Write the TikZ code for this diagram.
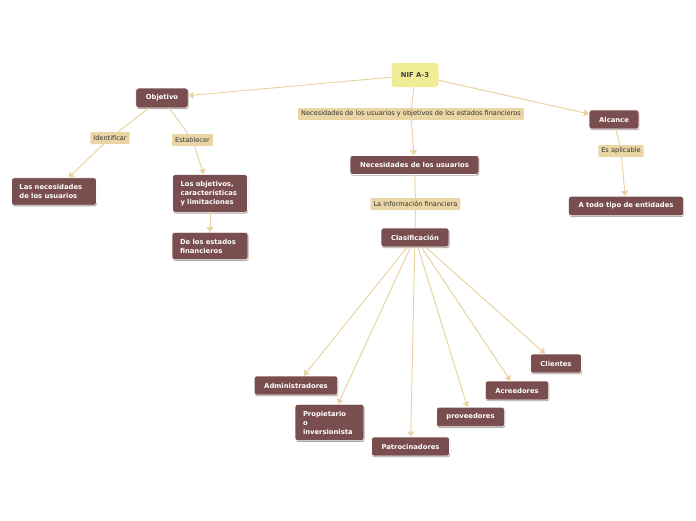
\documentclass[tikz,border=0pt]{standalone}
\usepackage{fontspec}
\setmainfont{DejaVu Sans}
\usepackage{xcolor}
\usepackage{tikz}
\usetikzlibrary{arrows.meta, shadows}

\definecolor{boxfill}{RGB}{122,78,78}
\definecolor{tagfill}{RGB}{234,214,164}
\definecolor{linecol}{RGB}{233,212,164}
\definecolor{rootfill}{RGB}{241,237,150}

\begin{document}
\begin{tikzpicture}[x=1pt, y=1pt,
  topic/.style={draw=white, line width=0.6pt, fill=boxfill, rounded corners=2.5pt, text=white,
    font=\fontsize{6.8}{9}\selectfont\bfseries, inner xsep=10pt, inner ysep=6.5pt, minimum height=19pt,
    align=left, drop shadow={shadow xshift=0.6pt, shadow yshift=-1.2pt, opacity=0.35, fill=black}},
  root/.style={fill=rootfill, rounded corners=3pt, text=black!75,
    font=\fontsize{6.8}{8.6}\selectfont\bfseries, minimum width=47pt, minimum height=24pt},
  tag/.style={fill=tagfill, rounded corners=1pt, text=black!80,
    font=\fontsize{6.6}{7.5}\selectfont, inner xsep=3pt, inner ysep=0pt, minimum height=12pt},
  conn/.style={draw=linecol, line width=1pt},
  arr/.style={conn, -{Triangle[width=7pt, length=5pt]}}]

  \useasboundingbox (0,0) rectangle (696,-520);

  % main nodes
  \node[root] (nif) at (415,-75) {NIF A-3};
  \node[topic] (objetivo) at (162,-98) {Objetivo};
  \node[topic] (alcance) at (614,-119.5) {Alcance};
  \node[topic] (necesidades) at (414.5,-165) {Necesidades de los usuarios};
  \node[topic] (clasificacion) at (415,-237.5) {Clasificación};
  \node[topic, inner xsep=8pt, text width=69pt] (lasnec) at (54,-191.5) {Las necesidades\\de los usuarios};
  \node[topic, inner xsep=8pt, text width=59pt] (losobj) at (210,-193.5) {Los objetivos,\\características\\y limitaciones};
  \node[topic, inner xsep=8pt, text width=60pt] (deest) at (210,-246) {De los estados\\financieros};
  \node[topic] (todo) at (626,-206) {A todo tipo de entidades};

  % clasificacion
  \node[topic] (admin) at (296,-385.5) {Administradores};
  \node[topic, inner xsep=8pt, text width=53pt] (prop) at (329.5,-422.5) {Propietario\\o\\inversionista};
  \node[topic] (patro) at (410.5,-446.5) {Patrocinadores};
  \node[topic] (prov) at (470.5,-417) {proveedores};
  \node[topic] (acre) at (517,-390.5) {Acreedores};
  \node[topic] (clien) at (556,-363.5) {Clientes};

  % link labels
  \node[tag] (lbl1) at (411,-114) {Necesidades de los usuarios y objetivos de los estados financieros};
  \node[tag] (lbl2) at (110,-138) {Identificar};
  \node[tag] (lbl3) at (192.5,-140) {Establecer};
  \node[tag] (lbl4) at (415.5,-204) {La información financiera};
  \node[tag] (lbl5) at (621,-151) {Es aplicable};

  % connectors
  \draw[arr] (nif) -- (objetivo);
  \draw[arr] (nif) -- (alcance);
  \draw[conn] (nif) -- (lbl1);
  \draw[arr] (lbl1) -- (necesidades);
  \draw[conn] (objetivo) -- (lbl2);
  \draw[arr] (lbl2) -- (lasnec);
  \draw[conn] (objetivo) -- (lbl3);
  \draw[arr] (lbl3) -- (losobj);
  \draw[arr] (losobj) -- (deest);
  \draw[conn] (alcance) -- (lbl5);
  \draw[arr] (lbl5) -- (todo);
  \draw[conn] (necesidades) -- (lbl4);
  \draw[conn] (lbl4) -- (clasificacion);
  \draw[arr] (clasificacion) -- (admin);
  \draw[arr] (clasificacion) -- (prop);
  \draw[arr] (clasificacion) -- (patro);
  \draw[arr] (clasificacion) -- (prov);
  \draw[arr] (clasificacion) -- (acre);
  \draw[arr] (clasificacion) -- (clien);
\end{tikzpicture}
\end{document}
